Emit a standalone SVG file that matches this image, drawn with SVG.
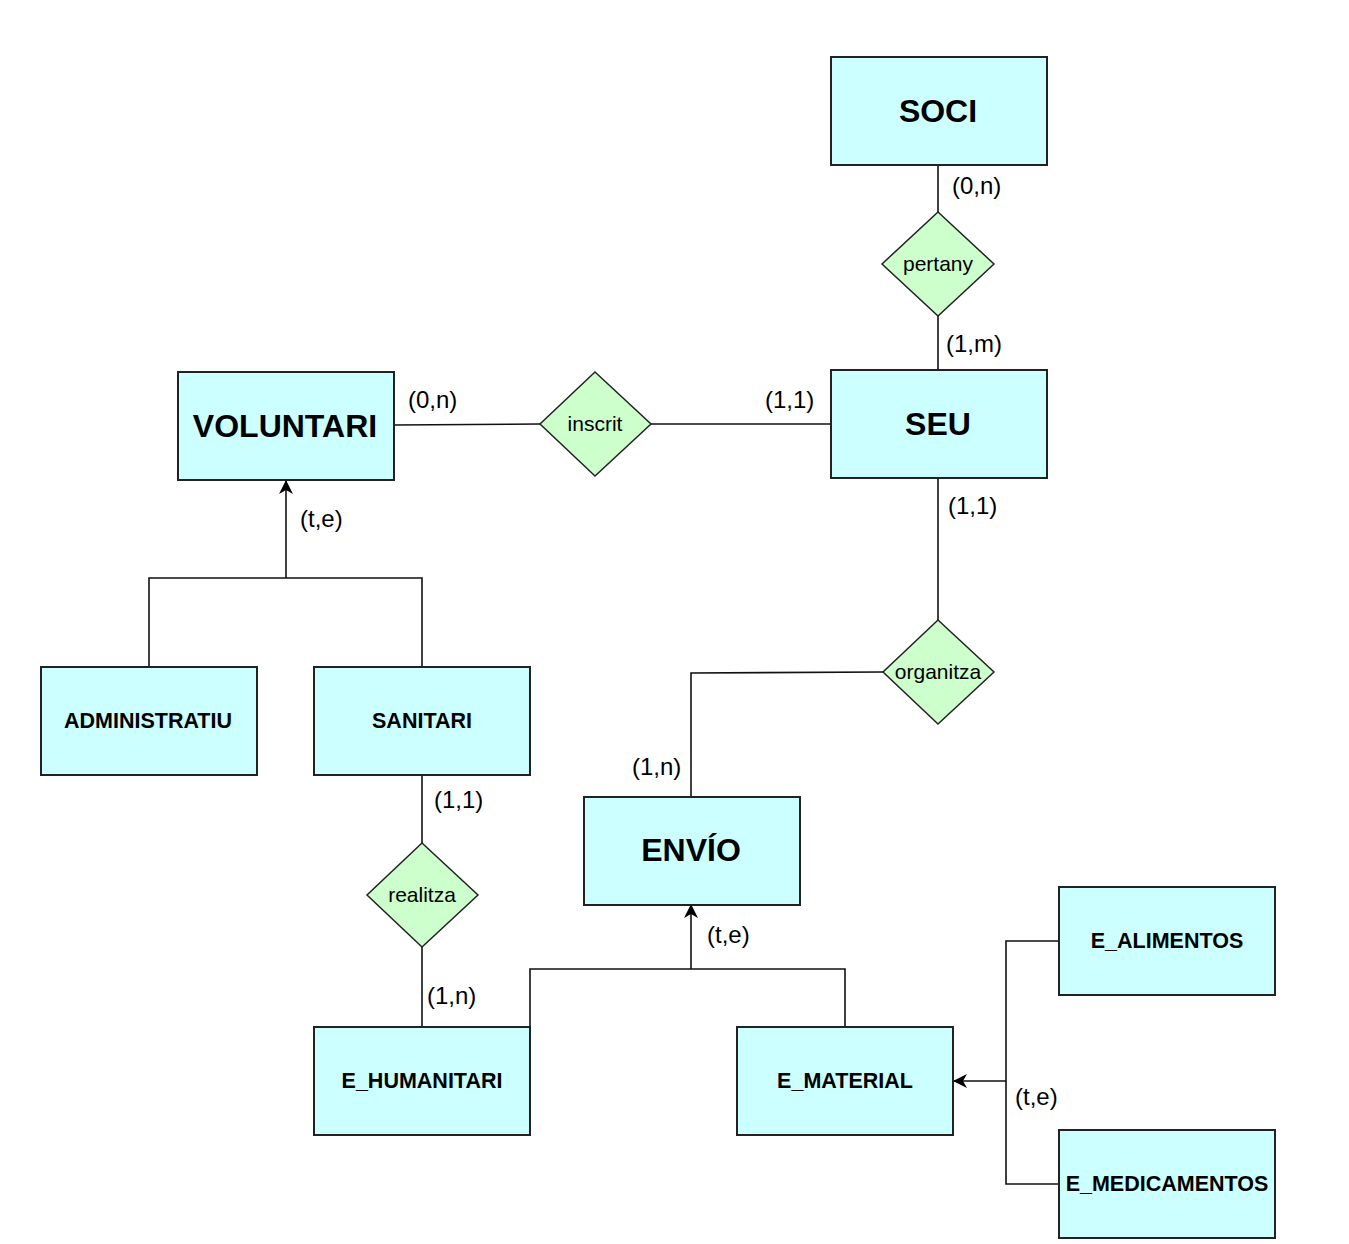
<svg xmlns="http://www.w3.org/2000/svg" width="1349" height="1244" viewBox="0 0 1349 1244">
<defs>
<marker id="arr" viewBox="0 0 14 14" refX="13" refY="7" markerWidth="14" markerHeight="14" markerUnits="userSpaceOnUse" orient="auto">
<path d="M0,0 L14,7 L0,14 L4,7 Z" fill="#000"/>
</marker>
<style>
.ent{fill:#CCFFFF;stroke:#222;stroke-width:2}
.rel{fill:#CCFFCC;stroke:#222;stroke-width:1.5}
.ln{fill:none;stroke:#111;stroke-width:1.6}
.big{font-family:"Liberation Sans",Arial,sans-serif;font-weight:bold;font-size:32px;text-anchor:middle}
.sm{font-family:"Liberation Sans",Arial,sans-serif;font-weight:bold;font-size:21.5px;text-anchor:middle}
.rt{font-family:"Liberation Sans",Arial,sans-serif;font-size:21px;text-anchor:middle}
.lb{font-family:"Liberation Sans",Arial,sans-serif;font-size:24px}
</style>
</defs>
<rect width="1349" height="1244" fill="#fff"/>
<g id="connectors">
<path class="ln" d="M938,165 V212"/>
<path class="ln" d="M938,316 V370"/>
<path class="ln" d="M394,425 L540,424"/>
<path class="ln" d="M651,424 H831"/>
<path class="ln" d="M938,478 V620"/>
<path class="ln" d="M883,672 L691,673 V797"/>
<path class="ln" d="M286,578 V481" marker-end="url(#arr)"/>
<path class="ln" d="M149,667 V578 H422 V667"/>
<path class="ln" d="M422,775 V843"/>
<path class="ln" d="M422,947 V1027"/>
<path class="ln" d="M691,969 V905" marker-end="url(#arr)"/>
<path class="ln" d="M530,1027 V969 H845 V1027"/>
<path class="ln" d="M1006,1081 H954" marker-end="url(#arr)"/>
<path class="ln" d="M1059,941 H1006 V1184 H1059"/>
<text class="lb" x="952" y="194">(0,n)</text>
<text class="lb" x="946" y="352">(1,m)</text>
<text class="lb" x="408" y="408">(0,n)</text>
<text class="lb" x="765" y="408">(1,1)</text>
<text class="lb" x="948" y="514">(1,1)</text>
<text class="lb" x="300" y="527">(t,e)</text>
<text class="lb" x="632" y="775">(1,n)</text>
<text class="lb" x="434" y="808">(1,1)</text>
<text class="lb" x="427" y="1004">(1,n)</text>
<text class="lb" x="707" y="943">(t,e)</text>
<text class="lb" x="1015" y="1105">(t,e)</text>
</g>
<g id="soci"><rect class="ent" x="831" y="57" width="216" height="108"/><text class="big" x="938" y="122">SOCI</text></g>
<g id="pertany"><polygon class="rel" points="938,212 994,264 938,316 882,264"/><text class="rt" x="938" y="271">pertany</text></g>
<g id="seu"><rect class="ent" x="831" y="370" width="216" height="108"/><text class="big" x="938" y="435">SEU</text></g>
<g id="voluntari"><rect class="ent" x="178" y="372" width="216" height="108"/><text class="big" x="285" y="437">VOLUNTARI</text></g>
<g id="inscrit"><polygon class="rel" points="595,372 651,424 595,476 540,424"/><text class="rt" x="595" y="431">inscrit</text></g>
<g id="organitza"><polygon class="rel" points="938,620 994,672 938,724 883,672"/><text class="rt" x="938" y="679">organitza</text></g>
<g id="administratiu"><rect class="ent" x="41" y="667" width="216" height="108"/><text class="sm" x="148" y="728">ADMINISTRATIU</text></g>
<g id="sanitari"><rect class="ent" x="314" y="667" width="216" height="108"/><text class="sm" x="422" y="728">SANITARI</text></g>
<g id="realitza"><polygon class="rel" points="422,843 478,895 422,947 367,895"/><text class="rt" x="422" y="902">realitza</text></g>
<g id="envio"><rect class="ent" x="584" y="797" width="216" height="108"/><text class="big" x="691" y="861">ENVÍO</text></g>
<g id="e_humanitari"><rect class="ent" x="314" y="1027" width="216" height="108"/><text class="sm" x="422" y="1088">E_HUMANITARI</text></g>
<g id="e_material"><rect class="ent" x="737" y="1027" width="216" height="108"/><text class="sm" x="845" y="1088">E_MATERIAL</text></g>
<g id="e_alimentos"><rect class="ent" x="1059" y="887" width="216" height="108"/><text class="sm" x="1167" y="948">E_ALIMENTOS</text></g>
<g id="e_medicamentos"><rect class="ent" x="1059" y="1130" width="216" height="108"/><text class="sm" x="1167" y="1191">E_MEDICAMENTOS</text></g>
</svg>
